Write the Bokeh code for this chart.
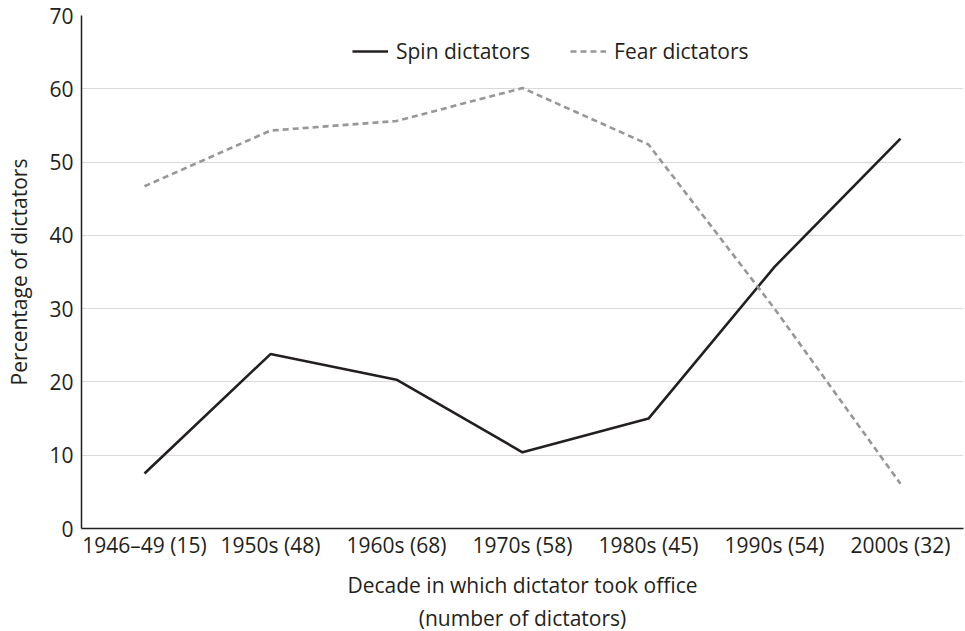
from bokeh.plotting import figure
from bokeh.models import FactorRange, Range1d, Legend, LegendItem, SingleIntervalTicker, Title
from bokeh.embed import file_html
from bokeh.resources import INLINE

decades = ["1946–49 (15)", "1950s (48)", "1960s (68)", "1970s (58)",
           "1980s (45)", "1990s (54)", "2000s (32)"]
spin = [7.5, 23.8, 20.3, 10.4, 15.0, 35.7, 53.2]
fear = [46.7, 54.3, 55.6, 60.1, 52.4, 30.0, 6.1]
x_title = "Decade in which dictator took office"
x_subtitle = "(number of dictators)"
y_title = "Percentage of dictators"

FONT = "Open Sans"
TXT = "#231f20"
FS = "21px"

p = figure(x_range=FactorRange(*decades, range_padding=0),
           y_range=Range1d(0, 70),
           width=964, height=631, output_backend="svg", toolbar_location=None,
           min_border_left=81, min_border_right=1, min_border_top=15, min_border_bottom=0)
p.outline_line_color = None
p.background_fill_color = "white"

r_spin = p.line(decades, spin, line_color="#231f20", line_width=2.6)
r_fear = p.line(decades, fear, line_color="#979797", line_width=2.6, line_dash="6 4")

p.yaxis.ticker = SingleIntervalTicker(interval=10)
p.xgrid.grid_line_color = None
p.ygrid.grid_line_color = "#d9d9d9"
p.ygrid.grid_line_width = 1.2

for ax in (p.xaxis[0], p.yaxis[0]):
    ax.axis_line_color = "#231f20"
    ax.axis_line_width = 1.5
    ax.major_tick_line_color = None
    ax.minor_tick_line_color = None
    ax.major_tick_out = 0
    ax.major_tick_in = 0
    ax.minor_tick_out = 0
    ax.minor_tick_in = 0
    ax.major_label_text_font = FONT
    ax.major_label_text_font_size = FS
    ax.major_label_text_color = TXT
    ax.axis_label_text_font = FONT
    ax.axis_label_text_font_size = FS
    ax.axis_label_text_font_style = "normal"
    ax.axis_label_text_color = TXT

p.yaxis.axis_label = y_title
p.yaxis.major_label_standoff = 8
p.yaxis.axis_label_standoff = 13
p.xaxis.axis_label = x_title
p.xaxis.major_label_standoff = 2
p.xaxis.axis_label_standoff = 9

sub = Title(text=x_subtitle, align="center", text_font=FONT, text_font_size=FS,
            text_font_style="normal", text_color=TXT, standoff=0, offset=0)
p.add_layout(sub, "below")

legend = Legend(items=[LegendItem(label="Spin dictators", renderers=[r_spin]),
                       LegendItem(label="Fear dictators", renderers=[r_fear])],
                orientation="horizontal", location=(271, 463),
                border_line_color=None, background_fill_alpha=0,
                label_text_font=FONT, label_text_font_size=FS,
                label_text_color=TXT, glyph_width=36, glyph_height=28,
                label_height=28, spacing=40,
                padding=0, margin=0, label_standoff=8)
p.add_layout(legend)

open("out.html", "w").write(file_html(p, INLINE))
